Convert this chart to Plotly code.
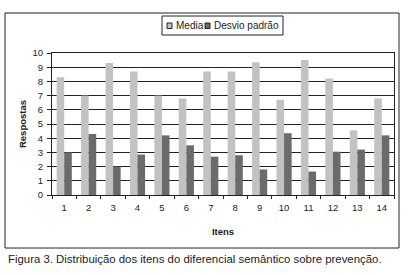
import plotly.graph_objects as go

itens = [str(i) for i in range(1, 15)]
media = [8.3, 7.0, 9.3, 8.7, 7.0, 6.8, 8.7, 8.7, 9.35, 6.7, 9.5, 8.2, 4.55, 6.8]
desvio = [3.0, 4.3, 2.0, 2.85, 4.2, 3.5, 2.7, 2.8, 1.8, 4.35, 1.65, 3.05, 3.2, 4.2]
y_ticks = list(range(0, 11))
series_names = ["Media", "Desvio padrão"]
series_colors = ["#c2c2c2", "#6b6b6b"]

FONT = "Liberation Sans, Arial, sans-serif"
INK = "#222"

fig = go.Figure()
fig.add_trace(go.Bar(x=itens, y=media, name=series_names[0],
                     marker=dict(color=series_colors[0], line=dict(width=0))))
fig.add_trace(go.Bar(x=itens, y=desvio, name=series_names[1],
                     marker=dict(color=series_colors[1], line=dict(width=0))))

L, R, T, B = 52, 16, 53, 80
W, H = 410, 275
pw = W - L - R
ph = H - T - B

def px(x):
    return (x - L) / pw

def py(y):
    return (H - B - y) / ph

shapes = [
    # outer frame
    dict(type="rect", xref="paper", yref="paper",
         x0=px(5), x1=px(399), y0=py(248), y1=py(13),
         line=dict(color=INK, width=1), fillcolor="rgba(0,0,0,0)", layer="below"),
    # legend frame
    dict(type="rect", xref="paper", yref="paper",
         x0=px(162), x1=px(283), y0=py(35), y1=py(16),
         line=dict(color=INK, width=1), fillcolor="white", layer="below"),
]
annotations = []
leg_sq_x = [167, 205]
leg_txt_x = [174, 212]
for i in range(2):
    shapes.append(dict(type="rect", xref="paper", yref="paper",
                       x0=px(leg_sq_x[i]), x1=px(leg_sq_x[i] + 5),
                       y0=py(28.5), y1=py(23),
                       line=dict(color=INK, width=1), fillcolor=series_colors[i]))
    annotations.append(dict(text=series_names[i], xref="paper", yref="paper",
                            x=px(leg_txt_x[i]), y=py(25.5), xanchor="left",
                            yanchor="middle", showarrow=False,
                            font=dict(size=10, family=FONT, color=INK)))

annotations.append(dict(text="Figura 3. Distribuição dos itens do diferencial semântico sobre prevenção.",
                        xref="paper", yref="paper", x=px(6), y=py(259),
                        xanchor="left", yanchor="middle", showarrow=False,
                        font=dict(size=11.4, family=FONT, color=INK)))

fig.update_layout(
    width=W, height=H,
    margin=dict(l=L, r=R, t=T, b=B, pad=0, autoexpand=False),
    paper_bgcolor="white", plot_bgcolor="white",
    font=dict(family=FONT, size=9.5, color=INK),
    barmode="group", bargap=0.38, bargroupgap=0,
    showlegend=False,
    xaxis=dict(type="category", showline=True, linecolor=INK, linewidth=1,
               mirror=True, ticks="outside", tickson="boundaries", ticklen=3,
               tickcolor=INK, showgrid=False, automargin=False,
               ticklabelstandoff=4,
               title=dict(text="<b>Itens</b>", font=dict(size=9.5), standoff=15)),
    yaxis=dict(range=[0, 10], tickvals=y_ticks, showline=True, linecolor=INK,
               linewidth=1, mirror=True, ticks="outside", ticklen=4,
               tickcolor=INK, showgrid=True, gridcolor=INK, gridwidth=1,
               zeroline=False, automargin=False, ticklabelstandoff=2,
               title=dict(text="<b>Respostas</b>", font=dict(size=9.5), standoff=4)),
    shapes=shapes,
    annotations=annotations,
)

fig.write_html("out.html", config={"displayModeBar": False},
               post_script="document.body.style.margin='0px';")
